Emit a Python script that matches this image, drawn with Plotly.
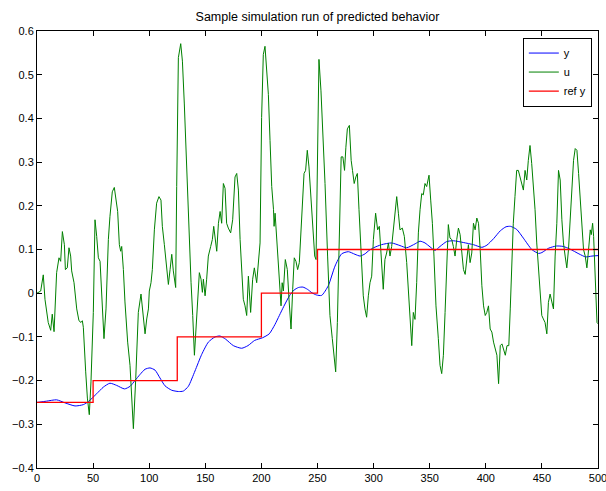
import plotly.graph_objects as go

# Plant output y
y_t = [0, 8.6, 17.5, 25, 33.9, 41.3, 45.8, 53.2, 59.1, 65, 71, 78, 83, 87.3, 91.8,
       96.3, 100.7, 105.2, 109.6, 114.1, 120, 126, 130.4, 134.9, 140.8, 146.8, 152.7,
       158.7, 163.1, 168, 175, 182.4, 188, 194, 201, 207, 212, 216, 220, 225, 229, 233,
       237, 241, 245, 249, 253.7, 259.6, 265.6, 271.5, 277.5, 283.4, 288, 292.3, 296,
       300, 307, 316, 323.5, 329.5, 337, 341.4, 345.8, 350.3, 354.7, 359.2, 365, 371,
       380, 389, 396.5, 401, 407, 413, 418, 422, 427.5, 433.5, 441, 447, 450, 456, 463,
       469, 475, 483, 489, 494.6, 500]
y_val = [-0.25, -0.247, -0.244, -0.251, -0.258, -0.255, -0.248, -0.23, -0.215, -0.206,
         -0.211, -0.219, -0.213, -0.2, -0.186, -0.174, -0.171, -0.176, -0.194, -0.212,
         -0.222, -0.225, -0.224, -0.213, -0.178, -0.14, -0.112, -0.1, -0.098, -0.105,
         -0.12, -0.126, -0.12, -0.108, -0.102, -0.093, -0.072, -0.051, -0.03, -0.006,
         0.007, 0.013, 0.014, 0.009, 0.001, -0.004, -0.005, 0.017, 0.062, 0.09, 0.095,
         0.089, 0.085, 0.09, 0.098, 0.104, 0.111, 0.115, 0.109, 0.104, 0.113, 0.119,
         0.115, 0.106, 0.098, 0.107, 0.118, 0.12, 0.116, 0.111, 0.105, 0.11, 0.125,
         0.143, 0.152, 0.153, 0.146, 0.126, 0.1, 0.091, 0.093, 0.103, 0.108, 0.107,
         0.101, 0.09, 0.083, 0.085, 0.086]

# Control input u
u_t = [0, 3.3, 5.6, 7.1, 10, 12.2, 13.6, 15.2, 17.5, 19.6, 21.1, 22.6, 24.4, 25.3, 27,
       28.5, 30, 30.9, 33, 35.4, 37.4, 39.2, 40.4, 41.3, 43.4, 44.9, 46.6, 48.1, 50.2,
       51.7, 53.2, 54.7, 56.2, 57.6, 59.7, 61.5, 63.6, 65, 67.1, 68.9, 70.4, 71.9, 73.4,
       74.6, 75.5, 77, 78.4, 80.8, 82.9, 85.9, 88, 90.3, 92.7, 94.8, 96.3, 97.8, 99.3,
       100.1, 101.6, 102.8, 104.6, 106.6, 108.7, 110.5, 111.7, 113.5, 115.6, 117.1,
       118.6, 120.1, 121.5, 123.6, 124.5, 126, 128.1, 129.6, 131.3, 133.4, 135.5, 137.3,
       138.8, 140.3, 141.7, 143.2, 144.7, 146.2, 147.4, 148.3, 149.8, 151.2, 152.7,
       154.8, 156.3, 157.5, 158.7, 160.2, 161.7, 163.2, 164.6, 166.1, 167.6, 169.0,
       170.5, 172.6, 174.4, 176.5, 178.0, 179.5, 181.0, 182.4, 183.9, 185.4, 186.9,
       188.4, 190.4, 192.2, 193.7, 195.8, 197.4, 198.8, 200.2, 201.7, 203.2, 204.8,
       206.2, 207.7, 209.2, 210.8, 211.3, 212.2, 213.6, 215.1, 216.6, 217.5, 218.5,
       219.6, 221.3, 223.1, 224.6, 226.4, 227.9, 229.3, 230.8, 232.3, 233.8, 235.9,
       238.0, 239.4, 240.9, 242.4, 243.4, 244.8, 246.3, 247.5, 248.7, 249.9, 251.3,
       253.1, 255.2, 256.7, 259.0, 261.1, 263.2, 265.0, 266.2, 267.7, 269.2, 271.1,
       272.6, 274.1, 275.3, 276.6, 278.4, 280.0, 281.2, 282.7, 284.2, 285.5, 287.0,
       288.8, 290.8, 292.3, 293.8, 295.3, 296.8, 298.3, 299.8, 301.8, 303.6, 305.1,
       306.6, 308.6, 310.1, 311.6, 313.2, 314.6, 316.1, 318.2, 320.6, 322.1, 323.5,
       325.6, 327.4, 329.5, 331.0, 332.5, 334.0, 335.4, 336.9, 338.4, 339.9, 341.4,
       342.9, 344.3, 345.8, 347.3, 349.4, 350.9, 352.4, 353.8, 355.6, 357.7, 359.2,
       360.7, 362.2, 363.7, 365.1, 366.6, 368.1, 369.6, 371.1, 372.6, 374.1, 375.6,
       377.1, 378.6, 380.1, 381.6, 383.0, 384.5, 386.0, 387.5, 389.0, 390.5, 392.0,
       393.5, 395.0, 396.5, 398.0, 399.5, 400.9, 402.4, 403.9, 405.4, 406.9, 408.4,
       409.9, 411.4, 412.9, 414.4, 415.9, 417.4, 418.9, 420.5, 421.8, 423.1, 424.5,
       426.0, 427.5, 429.0, 430.5, 432.0, 433.5, 435.0, 436.5, 437.9, 439.4, 440.9,
       442.4, 443.9, 445.4, 446.9, 448.4, 449.9, 451.3, 452.8, 454.4, 455.8, 457.3,
       458.8, 460.3, 461.8, 463.3, 464.8, 466.3, 467.8, 469.2, 470.7, 472.2, 473.7,
       475.2, 476.7, 478.2, 479.7, 481.2, 482.7, 484.2, 485.6, 487.1, 488.6, 490.1,
       491.6, 493.1, 494.0, 495.2, 496.1, 497.6, 499.1, 500]
u_val = [0.0, 0.005, 0.042, -0.014, -0.067, -0.085, -0.048, -0.088, 0.047, 0.081, 0.073,
         0.141, 0.111, 0.054, 0.058, 0.104, 0.085, 0.051, 0.024, -0.036, -0.063, -0.067,
         -0.063, -0.078, -0.18, -0.24, -0.278, -0.203, -0.044, 0.168, 0.13, 0.081, 0.073,
         0.009, -0.104, -0.036, 0.123, 0.175, 0.232, 0.242, 0.217, 0.187, 0.111, 0.096,
         0.107, 0.054, -0.02, -0.112, -0.165, -0.31, -0.195, -0.044, -0.002, -0.063,
         -0.093, -0.059, -0.036, 0.005, 0.024, 0.054, 0.145, 0.206, 0.221, 0.213, 0.153,
         0.111, 0.054, 0.02, 0.054, 0.089, 0.051, 0.013, 0.244, 0.539, 0.571, 0.531,
         0.433, 0.281, 0.16, 0.024, -0.051, -0.142, -0.082, -0.029, 0.047, 0.032, 0.002,
         0.032, -0.006, 0.032, 0.085, 0.107, 0.123, 0.153, 0.123, 0.096, 0.16, 0.187,
         0.16, 0.251, 0.24, 0.16, 0.149, 0.138, 0.168, 0.266, 0.274, 0.236, 0.123, 0.047,
         -0.014, -0.029, -0.051, 0.039, -0.044, 0.032, 0.058, 0.024, 0.085, 0.115, 0.402,
         0.546, 0.565, 0.516, 0.455, 0.349, 0.244, 0.191, 0.153, 0.183, 0.123, 0.07,
         0.009, -0.029, 0.024, 0.005, 0.077, 0.054, -0.014, -0.082, 0.009, 0.081, 0.073,
         0.054, 0.07, 0.191, 0.274, 0.281, 0.327, 0.289, 0.251, 0.191, 0.13, 0.085,
         0.077, 0.312, 0.535, 0.463, 0.349, 0.251, 0.085, -0.051, -0.104, -0.157, -0.18,
         -0.067, 0.123, 0.312, 0.312, 0.281, 0.334, 0.376, 0.384, 0.304, 0.281, 0.251,
         0.266, 0.274, 0.191, 0.085, -0.006, -0.036, -0.055, -0.006, 0.024, 0.039, 0.123,
         0.183, 0.145, 0.153, 0.092, 0.009, 0.077, 0.092, 0.115, 0.085, 0.107, 0.16,
         0.221, 0.183, 0.145, 0.149, 0.13, 0.07, 0.009, -0.074, -0.12, -0.044, -0.06,
         0.024, 0.138, 0.191, 0.228, 0.225, 0.251, 0.244, 0.27, 0.213, 0.16, 0.085,
         -0.029, -0.104, -0.165, -0.184, -0.142, -0.044, 0.062, 0.157, 0.126, 0.123,
         0.107, 0.085, 0.123, 0.149, 0.134, 0.092, 0.054, 0.043, 0.07, 0.111, 0.07,
         0.092, 0.16, 0.145, 0.172, 0.16, 0.1, 0.017, -0.029, -0.051, -0.044, -0.029,
         -0.082, -0.089, -0.112, -0.131, -0.142, -0.207, -0.12, -0.116, -0.127, -0.142,
         -0.12, -0.12, -0.036, 0.085, 0.16, 0.221, 0.281, 0.281, 0.266, 0.255, 0.236,
         0.281, 0.259, 0.304, 0.338, 0.297, 0.251, 0.191, 0.115, 0.054, 0.009, -0.051,
         -0.059, -0.067, -0.093, -0.021, -0.002, -0.021, -0.036, 0.085, 0.16, 0.281,
         0.259, 0.168, 0.115, 0.085, 0.058, 0.1, 0.16, 0.244, 0.304, 0.331, 0.327, 0.274,
         0.206, 0.138, 0.1, 0.085, 0.058, 0.1, 0.145, 0.134, 0.16, 0.13, 0.039, -0.067,
         -0.07]

# Reference trajectory (piecewise constant setpoints)
ref_t = [0, 50, 125, 200, 250, 500]
ref_val = [-0.25, -0.2, -0.1, 0.0, 0.1, 0.1]

# Axis ticks
x_ticks = [0, 50, 100, 150, 200, 250, 300, 350, 400, 450, 500]
y_ticks = [-0.4, -0.3, -0.2, -0.1, 0, 0.1, 0.2, 0.3, 0.4, 0.5, 0.6]
y_ticktext = ["\u22120.4", "\u22120.3", "\u22120.2", "\u22120.1", "0",
              "0.1", "0.2", "0.3", "0.4", "0.5", "0.6"]

FONT = "Liberation Sans, Arial, Helvetica, sans-serif"

fig = go.Figure()
fig.add_trace(go.Scatter(x=y_t, y=y_val, mode="lines", name="y",
                         line=dict(color="#0000ff", width=1, shape="spline", smoothing=0.6)))
fig.add_trace(go.Scatter(x=u_t, y=u_val, mode="lines", name="u",
                         line=dict(color="#008000", width=1)))
fig.add_trace(go.Scatter(x=ref_t, y=ref_val, mode="lines", name="ref y",
                         line=dict(color="#ff0000", width=1.3, shape="hv")))

axis_style = dict(showline=True, linecolor="black", linewidth=1, mirror="ticks",
                  ticks="inside", ticklen=5, tickcolor="black", showgrid=False,
                  zeroline=False, automargin=False, ticklabeloverflow="allow",
                  tickfont=dict(family=FONT, size=11, color="black"))

fig.update_layout(
    width=606, height=491,
    margin=dict(l=37, r=8, t=31, b=23, autoexpand=False),
    paper_bgcolor="white", plot_bgcolor="white",
    font=dict(family=FONT, size=11, color="black"),
    title=dict(text="Sample simulation run of predicted behavior", x=0.5, xref="paper",
               y=1 - 17 / 491, yanchor="middle", font=dict(family=FONT, size=12.5)),
    xaxis=dict(range=[0, 500], tickmode="array", tickvals=x_ticks,
               ticktext=[str(v) for v in x_ticks], **axis_style),
    yaxis=dict(range=[-0.4, 0.6], tickmode="array", tickvals=y_ticks,
               ticktext=y_ticktext, **axis_style),
    legend=dict(x=0.989, y=0.985, xanchor="right", yanchor="top", bgcolor="white",
                bordercolor="black", borderwidth=1, font=dict(family=FONT, size=11),
                tracegroupgap=0, itemwidth=30),
    showlegend=True,
)

fig.write_html("out.html")
